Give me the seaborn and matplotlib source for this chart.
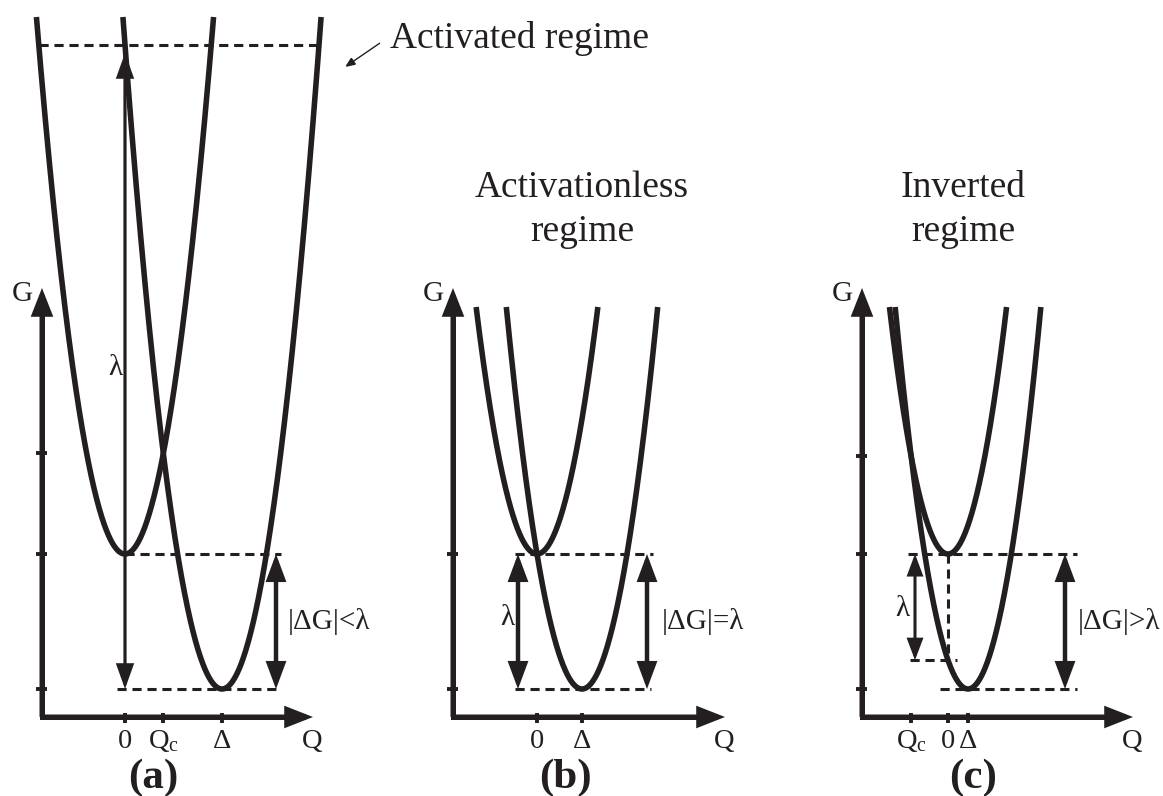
import numpy as np
import matplotlib
matplotlib.use("Agg")
import matplotlib.pyplot as plt
import seaborn as sns
from matplotlib.patches import ArrowStyle, FancyArrowPatch

sns.set_style("white")
plt.rcParams["font.family"] = ["Liberation Serif", "DejaVu Serif"]
plt.rcParams["mathtext.fontset"] = "custom"
plt.rcParams["mathtext.rm"] = "Liberation Serif"
plt.rcParams["mathtext.it"] = "Liberation Serif:italic"

INK = "#231f20"

# Marcus free-energy parabolas for three regimes (arbitrary units)
panel_tags = ["(a)", "(b)", "(c)"]
shift_delta = [9.7, 4.5, 2.0]            # Δ, displacement of the product well
reorganization = [64.4, 13.5, 2.88]      # λ = k Δ²
driving_force = [-13.5, -13.5, -13.5]    # ΔG
arm_top = [53.7, 24.7, 24.7]             # energy where the parabola arms stop
tick_names = [["0", r"$\mathrm{Q_c}$", "Δ"], ["0", "Δ"], [r"$\mathrm{Q_c}$", "0", "Δ"]]
relation_labels = ["|ΔG|<λ", "|ΔG|=λ", "|ΔG|>λ"]
regime_titles = ["Activated regime", "Activationless\nregime", "Inverted\nregime"]

# figure geometry (pixels) and per-panel layout in data units
W, H = 1163, 796
UNIT = 10.0
panel_left = [0, 400, 780]
panel_width = [400, 380, 383]
origin_px = [(125, 554), (537, 554), (948, 554)]
yaxis_q = [-8.3, -8.4, -8.6]
xaxis_g = -16.3
xaxis_end = [18.8, 18.8, 18.5]
yaxis_top = 26.6
dg_arrow_q = [15.1, 11.0, 11.7]
lam_arrow_q = [0.0, -1.9, -3.3]
lam_label_pos = [(-1.0, 18.6), (-3.0, -6.4), (-4.6, -5.5)]
rel_label_q = [16.3, 12.5, 13.0]
top_dash = [(0.0, 15.6), (-2.2, 11.6), (-4.0, 12.9)]
bottom_dash = [(-0.8, 15.6), (-2.2, 11.4), (-0.8, 12.9)]
tag_q = [2.8, 2.8, 2.5]


def arrow(ax, start, end, lw, hl, hw, both=False):
    style = ArrowStyle("<|-|>" if both else "-|>", head_length=hl, head_width=hw)
    patch = FancyArrowPatch(start, end, arrowstyle=style, mutation_scale=1,
                            lw=lw, color=INK, shrinkA=0, shrinkB=0,
                            joinstyle="miter", capstyle="butt", clip_on=False)
    ax.add_patch(patch)


def dashed(ax, q, g):
    ax.plot(q, g, color=INK, lw=2.2, dashes=(3.0, 1.9), clip_on=False)


fig = plt.figure(figsize=(W / 100, H / 100), dpi=100)

for i in range(3):
    x0, y0 = origin_px[i]
    ax = fig.add_axes([panel_left[i] / W, 0, panel_width[i] / W, 1])
    ax.set_xlim((panel_left[i] - x0) / UNIT, (panel_left[i] + panel_width[i] - x0) / UNIT)
    ax.set_ylim((y0 - H) / UNIT, y0 / UNIT)
    ax.set_axis_off()
    ax.patch.set_visible(False)

    d = shift_delta[i]
    lam = reorganization[i]
    dg = driving_force[i]
    k = lam / d ** 2
    qc = (lam + dg) / (2 * k * d)
    gc = k * qc ** 2
    g_vert = dg + lam           # product curve at Q = 0

    # reactant and product wells
    hw_r = np.sqrt(arm_top[i] / k)
    q_r = np.linspace(-hw_r, hw_r, 400)
    hw_p = np.sqrt((arm_top[i] - dg) / k)
    q_p = np.linspace(d - hw_p, d + hw_p, 400)
    for q, g in [(q_r, k * q_r ** 2), (q_p, k * (q_p - d) ** 2 + dg)]:
        sns.lineplot(x=q, y=g, ax=ax, color=INK, linewidth=4.0, sort=False,
                     estimator=None, solid_capstyle="butt", clip_on=False)

    # coordinate axes
    qa = yaxis_q[i]
    ax.plot([qa, qa, xaxis_end[i] - 2], [yaxis_top - 2, xaxis_g, xaxis_g], color=INK,
            lw=3.6, solid_joinstyle="miter", solid_capstyle="butt")
    arrow(ax, (qa, xaxis_g), (xaxis_end[i], xaxis_g), 3.6, 14, 5.5)
    arrow(ax, (qa, xaxis_g), (qa, yaxis_top), 3.6, 14, 5.5)
    ax.text(qa - 2.0, yaxis_top - 0.6, "G", fontsize=21, color=INK, ha="center", va="center")
    ax.text(xaxis_end[i] - 0.1, -18.7, "Q", fontsize=20.5, color=INK, ha="center", va="center")

    # ticks on the energy axis
    g_ticks = [0.0, dg] + ([gc] if abs(gc) > 1e-6 else [])
    for g in g_ticks:
        ax.plot([qa - 0.6, qa + 0.5], [g, g], color=INK, lw=2.8, solid_capstyle="butt")

    # ticks on the coordinate axis
    q_ticks = {"(a)": [0.0, qc, d], "(b)": [0.0, d], "(c)": [qc, 0.0, d]}[panel_tags[i]]
    for q, name in zip(q_ticks, tick_names[i]):
        ax.plot([q, q], [xaxis_g + 0.4, xaxis_g - 0.6], color=INK, lw=2.8,
                solid_capstyle="butt")
        ax.text(q, -18.7, name, fontsize=20.5, color=INK, ha="center", va="center")

    ax.text(tag_q[i], -22.4, panel_tags[i], fontsize=31, fontweight="bold",
            color=INK, ha="center", va="center")

    # energy-level guides
    dashed(ax, list(top_dash[i]), [0, 0])
    dashed(ax, list(bottom_dash[i]), [dg, dg])

    # driving force
    arrow(ax, (dg_arrow_q[i], 0), (dg_arrow_q[i], dg), 3.2, 14, 5.2, both=True)
    ax.text(rel_label_q[i], dg / 2, relation_labels[i], fontsize=21, color=INK,
            ha="left", va="center")

    # reorganization energy
    lq, lg = lam_label_pos[i]
    if i == 0:
        arrow(ax, (lam_arrow_q[i], dg), (lam_arrow_q[i], g_vert - 0.8), 2.3, 14, 5.0, both=True)
        q_left = -np.sqrt(g_vert / k)
        q_right = d + np.sqrt((g_vert - dg) / k)
        dashed(ax, [q_left, q_right], [g_vert, g_vert])
        ax.text(lq, lg, "λ", fontsize=21, color=INK, ha="center", va="center")
        ax.text(26.5, 51.6, regime_titles[i], fontsize=27, color=INK,
                ha="left", va="center")
        arrow(ax, (25.5, 51.1), (22.0, 48.7), 1.0, 6, 2.5)
    elif i == 1:
        arrow(ax, (lam_arrow_q[i], 0), (lam_arrow_q[i], dg), 3.2, 14, 5.2, both=True)
        ax.text(lq, lg, "λ", fontsize=21, color=INK, ha="center", va="center")
        ax.text(d, 34.4, regime_titles[i], fontsize=27, color=INK, ha="center",
                va="center", linespacing=1.35)
    else:
        arrow(ax, (lam_arrow_q[i], 0), (lam_arrow_q[i], g_vert), 2.2, 12, 4.5, both=True)
        dashed(ax, [0, 0], [0, g_vert])
        dashed(ax, [-3.8, 0.9], [g_vert, g_vert])
        ax.text(lq, lg, "λ", fontsize=21, color=INK, ha="center", va="center")
        ax.text(1.5, 34.4, regime_titles[i], fontsize=27, color=INK, ha="center",
                va="center", linespacing=1.35)

fig.savefig("out.png", dpi=100, facecolor="white")
